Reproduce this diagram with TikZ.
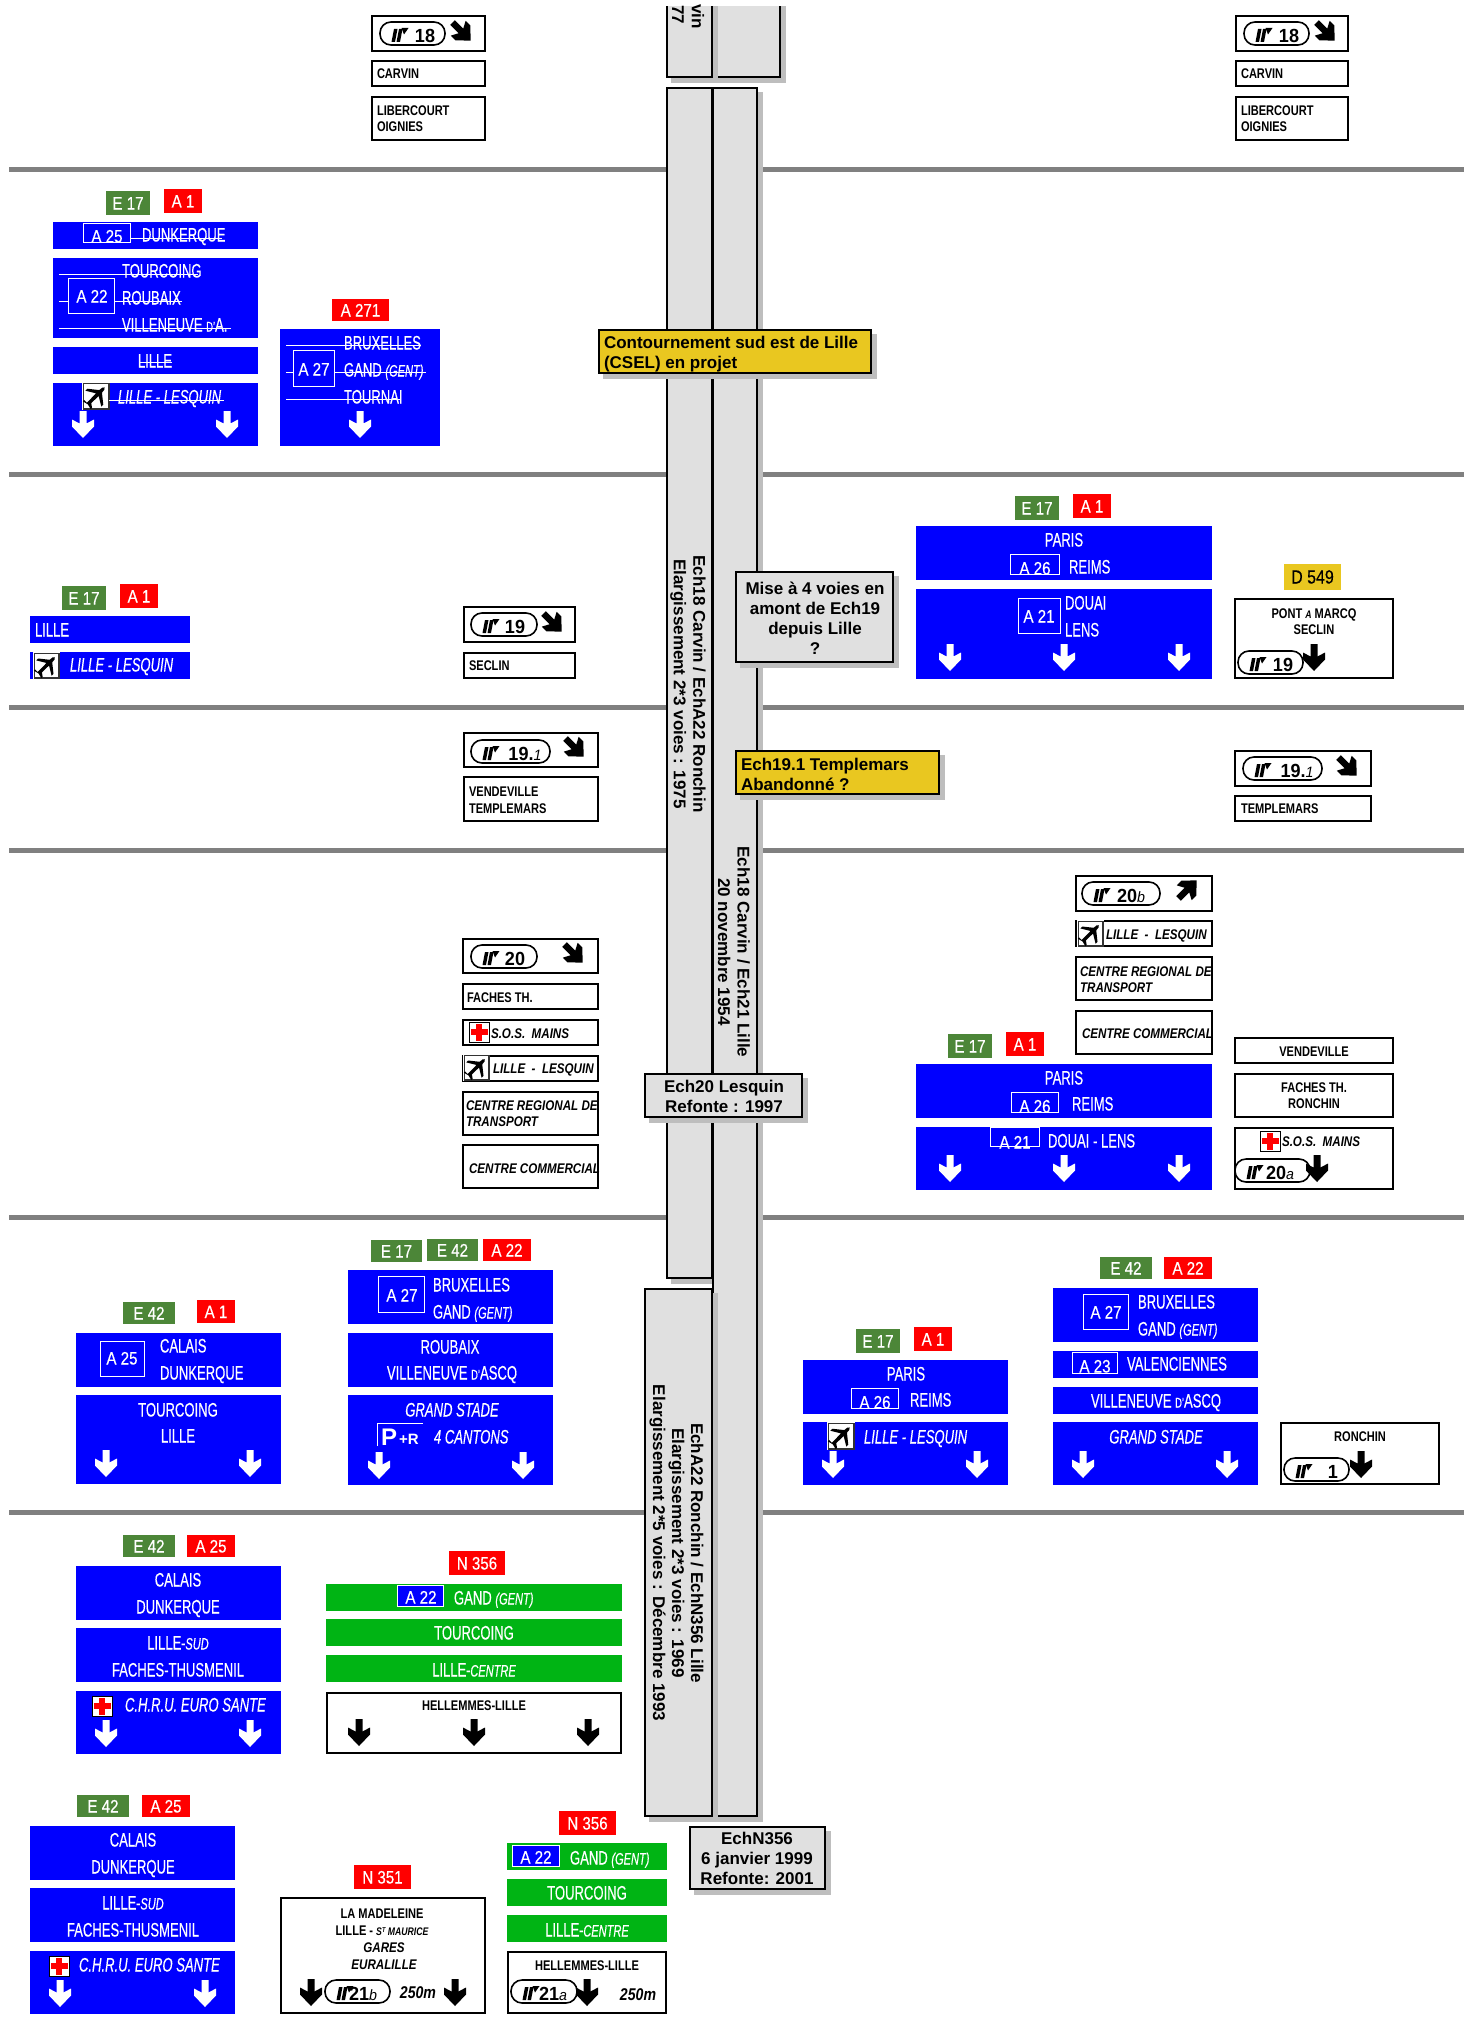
\documentclass[tikz,border=0pt]{standalone}
\usepackage{fontspec}
\newfontfamily\sgfam[FakeStretch=.67,FakeBold=.35]{Liberation Sans}
\newfontfamily\lbfam[FakeStretch=.84,FakeBold=.35]{Liberation Sans}
\newfontfamily\bkfam[FakeStretch=.79]{Liberation Sans}
\newfontfamily\kifam[FakeStretch=.83]{Liberation Sans}
\newfontfamily\pnfam[FakeStretch=.95]{Liberation Sans}
\newfontfamily\arfam{Liberation Sans}
\newcommand\sgf{\sgfam\fontsize{19.5}{22}\selectfont}
\newcommand\lbf{\lbfam\fontsize{18}{20}\selectfont}
\newcommand\bkf{\bkfam\bfseries\fontsize{14}{16}\selectfont}
\newcommand\kif{\kifam\bfseries\itshape\fontsize{14}{16}\selectfont}
\newcommand\pnf{\pnfam\bfseries\fontsize{19}{19}\selectfont}
\newcommand\arf{\arfam\bfseries\fontsize{17}{20}\selectfont}
\newcommand\smi[1]{{\fontsize{16.5}{14}\selectfont\itshape #1}}
\newcommand\sms[1]{{\fontsize{14}{14}\selectfont #1}}
\newcommand\smk[1]{{\fontsize{11}{14}\selectfont\itshape #1}}
\newcommand\smp[1]{{\fontsize{15}{14}\selectfont\mdseries\itshape #1}}
\definecolor{sblue}{HTML}{0000FF}
\definecolor{sgreen}{HTML}{00B414}
\definecolor{lgreen}{HTML}{4C8638}
\definecolor{sred}{HTML}{FF0000}
\definecolor{syel}{HTML}{E9C720}
\definecolor{pgray}{HTML}{E0E0E0}
\definecolor{shad}{HTML}{BEBEBE}
\definecolor{rule}{HTML}{808080}
\tikzset{
 txt/.style={inner sep=0pt,outer sep=0pt},
 wc/.style={txt,text=white,font=\sgf,text height=14pt,text depth=0pt,anchor=center,yshift=.5pt},
 wl/.style={wc,anchor=west},
 lb/.style={txt,text=white,font=\lbf,text height=13pt,text depth=0pt,anchor=center},
 kbl/.style={txt,text=black,font=\lbfam\fontsize{19}{20}\selectfont,text height=13pt,text depth=0pt,anchor=center},
 kc/.style={txt,text=black,font=\bkf,text height=10pt,text depth=0pt,anchor=center},
 kl/.style={kc,anchor=west},
 ki/.style={kl,font=\kif},
 kic/.style={kc,font=\kif},
 pn/.style={txt,text=black,font=\pnf,text height=13.5pt,text depth=0pt,anchor=center},
 ar/.style={txt,text=black,font=\arf,align=center,anchor=center},
 arl/.style={txt,text=black,font=\arf,align=left,anchor=west},
 box/.style={draw=black,line width=2pt,fill=white},
 stk/.style={draw=white,line width=.8pt},
 abox/.style={draw=white,line width=1.2pt},
 pan/.style={draw=black,line width=2pt}
}
\newcounter{tn}
\newcommand\Tx[4]{\stepcounter{tn}\node[#1] (t\arabic{tn}) at ({#2},{#3}) {#4};}
\newcommand\Bl[4]{\fill[sblue] (#1,#2) rectangle (#3,#4);}
\newcommand\Gr[4]{\fill[sgreen] (#1,#2) rectangle (#3,#4);}
\newcommand\Bx[4]{\draw[box] (#1+1,#2+1) rectangle (#3-1,#4-1);}
\newcommand\Ab[4]{\draw[abox] (#1+.6,#2+.6) rectangle (#3-.6,#4-.6);}
\newcommand\Lab[6]{\fill[#1] (#2,#3) rectangle (#4,#5); \Tx{lb}{(#2+#4)/2}{(#3+#5)/2}{#6}}
\newcommand\arpoly{(-3.5,0)--(3.5,0)--(3.5,12.5)--(11,8.5)--(11,15.5)--(0,27)--(-11,15.5)--(-11,8.5)--(-3.5,12.5)--cycle}
\newcommand\DA[3]{\fill[#1,shift={(#2,#3)}] \arpoly;}
\newcommand\RA[4]{\fill[black,shift={(#1,#2)},rotate=#3,yshift=12pt,scale=#4] \arpoly;}
\newcommand\Pan[5]{\fill[shad] (#1+5,#2+5) rectangle (#3+5,#4+5); \draw[pan,fill=#5] (#1+1,#2+1) rectangle (#3-1,#4-1);}
\newcommand\Pill[5]{% x0 y0 width cx num
 \draw[black,line width=1.6pt,fill=white,rounded corners=11pt] (#1,#2) rectangle ++(#3,23);
 \begin{scope}[shift={(#1,#2)}]
 \fill[black] (11.5,20)--(15,20)--(17.5,7)--(14,7)--cycle;
 \fill[black] (16.5,20)--(20,20)--(22.5,7)--(19,7)--cycle;
 \fill[black] (21.5,6)--(28.5,6)--(24,12.5)--cycle;
 \end{scope}
 \Tx{pn}{#4}{#2+14}{#5}}
\newcommand\Cross[3]{% x0 y0 bg
 \draw[#3,line width=1pt,fill=white] (#1,#2) rectangle ++(20,20);
 \fill[sred] (#1+7,#2+1.5) rectangle ++(6,17);
 \fill[sred] (#1+1.5,#2+7) rectangle ++(17,6);}
\newcommand\Pl[3]{% x0 y0 size
 \fill[white] (#1,#2) rectangle ++(#3,#3);
 \draw[black!80,line width=1.4pt] (#1+1.2,#2+1.2) rectangle ++(#3-2.4,#3-2.4);
 \fill[black,shift={(#1+#3/2,#2+#3/2)},rotate=45,scale=#3/30]
 (-12,-1.8)--(2,-2)--(-4,-12)--(-1,-12)--(7,-2)--(11,-1.6)--(13,0)--(11,1.6)--(7,2)--(-1,12)--(-4,12)--(2,2)--(-9,1.8)--(-12,6)--(-14,6)--(-12.5,0)--(-14,-6)--(-12,-6)--cycle;}
\begin{document}
\begin{tikzpicture}[x=1pt,y=-1pt]
\useasboundingbox (0,0) rectangle (1470,2028);
\fill[white] (0,0) rectangle (1470,2028);
% horizontal rules
\foreach \yy in {169.5,474.5,707.5,850.5,1217,1512}{\draw[rule,line width=5pt] (9,\yy)--(1464,\yy);}
% central carriageways
\Pan{712}{-5}{781}{78}{pgray}
\Pan{666}{-5}{713}{78}{pgray}
\Pan{666}{87}{713}{1279}{pgray}
\Pan{712}{87}{758}{1817}{pgray}
\Pan{644}{1288}{713}{1817}{pgray}
\fill[white] (600,0) rectangle (800,6);
\Tx{ar,rotate=-90}{698}{16.5}{vin}
\Tx{ar,rotate=-90}{678}{14.5}{77}
\Tx{ar,rotate=-90}{688}{684}{Ech18 Carvin / EchA22 Ronchin\\[-.5pt]Elargissement 2*3 voies : 1975}
\Tx{ar,rotate=-90}{734}{952}{Ech18 Carvin / Ech21 Lille\\[-.5pt]20 novembre 1954}
\Tx{ar,rotate=-90}{676.5}{1553}{EchA22 Ronchin / EchN356 Lille\\[-1pt]Elargissement 2*3 voies : 1969\\[-1pt]Elargissement 2*5 voies : Décembre 1993}
% note boxes
\Pan{598}{329}{872}{374}{syel}
\Tx{arl}{604}{354.5}{Contournement sud est de Lille\\(CSEL) en projet}
\Pan{735}{571}{894}{663}{pgray}
\Tx{ar}{815}{618}{Mise à 4 voies en\\amont de Ech19\\depuis Lille\\?}
\Pan{735}{750}{940}{795}{syel}
\Tx{arl}{741}{774}{Ech19.1 Templemars\\Abandonné ?}
\Pan{644}{1073}{803}{1118}{pgray}
\Tx{ar}{724}{1096}{Ech20 Lesquin\\Refonte : 1997}
\Pan{689}{1826}{826}{1890}{pgray}
\Tx{ar}{757}{1858}{EchN356\\6 janvier 1999\\Refonte: 2001}
% --- section 0 left
\Bx{371}{15}{486}{52}
\Pill{380}{22}{65}{425}{18}
\RA{461}{31}{45}{.95}
\Bx{371}{60}{486}{87}
\Tx{kl}{377}{74}{CARVIN}
\Bx{371}{96}{486}{141}
\Tx{kl}{377}{111}{LIBERCOURT}
\Tx{kl}{377}{127}{OIGNIES}
% --- section 0 right
\Bx{1235}{15}{1349}{52}
\Pill{1244}{22}{65}{1289}{18}
\RA{1325}{31}{45}{.95}
\Bx{1235}{60}{1349}{87}
\Tx{kl}{1241}{74}{CARVIN}
\Bx{1235}{96}{1349}{141}
\Tx{kl}{1241}{111}{LIBERCOURT}
\Tx{kl}{1241}{127}{OIGNIES}
% --- section 1 left
\Lab{lgreen}{106}{191}{150}{215}{E 17}
\Lab{sred}{164}{189}{202}{213}{A 1}
\Bl{53}{222}{258}{249}
\Ab{83}{223}{131}{243}
\Tx{lb}{107}{236}{A 25}
\Tx{wl}{142}{235}{DUNKERQUE}
\draw[stk] (131,238)--(222,238);
\Bl{53}{258}{258}{338}
\Ab{68}{278}{115}{314}
\Tx{lb}{92}{296}{A 22}
\Tx{wl}{122}{271}{TOURCOING}
\Tx{wl}{122}{298}{ROUBAIX}
\Tx{wl}{122}{325}{VILLENEUVE \sms{D’}A.}
\draw[stk] (59,274)--(198,274);
\draw[stk] (59,301)--(68,301);
\draw[stk] (115,301)--(182,301);
\draw[stk] (59,328)--(231,328);
\Bl{53}{347}{258}{374}
\Tx{wc}{155}{361}{LILLE}
\draw[stk] (139,362)--(172,362);
\Bl{53}{383}{258}{446}
\Pl{82}{382}{28}
\Tx{wl}{118}{397}{\itshape LILLE - LESQUIN}
\draw[stk] (109,400)--(224,400);
\DA{white}{83}{411}
\DA{white}{227}{411}
\Lab{sred}{332}{299}{389}{321}{A 271}
\Bl{280}{329}{440}{446}
\Ab{293}{350}{335}{387}
\Tx{lb}{314}{369}{A 27}
\Tx{wl}{344}{343}{BRUXELLES}
\Tx{wl}{344}{370}{GAND \smi{(GENT)}}
\Tx{wl}{344}{397}{TOURNAI}
\draw[stk] (286,345)--(421,345);
\draw[stk] (286,372)--(293,372);
\draw[stk] (335,372)--(426,372);
\draw[stk] (286,399)--(401,399);
\DA{white}{360}{411}
% --- section 2 left
\Lab{lgreen}{62}{586}{106}{610}{E 17}
\Lab{sred}{120}{584}{158}{608}{A 1}
\Bl{30}{616}{190}{643}
\Tx{wl}{35}{630}{LILLE}
\Bl{30}{652}{190}{679}
\Pl{33}{652}{27}
\Tx{wl}{70}{665}{\itshape LILLE - LESQUIN}
\Bx{463}{606}{576}{643}
\Pill{471}{613}{66}{515}{19}
\RA{552}{622}{45}{.95}
\Bx{463}{652}{576}{679}
\Tx{kl}{469}{665}{SECLIN}
% --- section 2 right
\Lab{lgreen}{1015}{496}{1059}{520}{E 17}
\Lab{sred}{1073}{494}{1111}{518}{A 1}
\Bl{916}{526}{1212}{580}
\Tx{wc}{1064}{540}{PARIS}
\Ab{1010}{554}{1060}{575}
\Tx{lb}{1035}{568}{A 26}
\Tx{wl}{1069}{567}{REIMS}
\Bl{916}{589}{1212}{679}
\Ab{1018}{598}{1061}{634}
\Tx{lb}{1039}{616}{A 21}
\Tx{wl}{1065}{603}{DOUAI}
\Tx{wl}{1065}{630}{LENS}
\DA{white}{950}{644}
\DA{white}{1064}{644}
\DA{white}{1179}{644}
\fill[syel] (1284,564) rectangle (1341,590);
\Tx{kbl}{1312.5}{577}{D 549}
\Bx{1234}{598}{1394}{679}
\Tx{kc}{1314}{613}{PONT \smk{A} MARCQ}
\Tx{kc}{1314}{629}{SECLIN}
\Pill{1238}{651}{65}{1283}{19}
\DA{black}{1314}{644}
% --- section 3 left
\Bx{463}{732}{599}{768}
\Pill{471}{740}{79}{525}{19.\smp{1}}
\RA{574}{747}{45}{.95}
\Bx{463}{776}{599}{822}
\Tx{kl}{469}{791}{VENDEVILLE}
\Tx{kl}{469}{808}{TEMPLEMARS}
% --- section 3 right
\Bx{1234}{750}{1372}{787}
\Pill{1243}{757}{79}{1297}{19.\smp{1}}
\RA{1347}{766}{45}{.95}
\Bx{1234}{795}{1372}{822}
\Tx{kl}{1241}{808}{TEMPLEMARS}
% --- section 4 left
\Bx{462}{938}{599}{974}
\Pill{471}{945}{66}{515}{20}
\RA{573}{953}{45}{.95}
\Bx{462}{983}{599}{1010}
\Tx{kl}{467}{997}{FACHES TH.}
\Bx{462}{1019}{599}{1046}
\Cross{469}{1022}{black}
\Tx{ki}{491}{1033}{S.O.S.\ \ MAINS}
\Bx{462}{1055}{599}{1082}
\Pl{463}{1054}{27}
\Tx{ki}{493}{1068}{LILLE\ \ -\ \ LESQUIN}
\Bx{462}{1091}{599}{1136}
\Tx{ki}{466}{1105}{CENTRE REGIONAL DE}
\Tx{ki}{466}{1121}{TRANSPORT}
\Bx{462}{1144}{599}{1189}
\Tx{ki}{469}{1168}{CENTRE COMMERCIAL}
% --- section 4 right
\Bx{1075}{875}{1213}{912}
\Pill{1082}{882}{78}{1131}{20\smp{b}}
\RA{1187}{890}{135}{.95}
\Bx{1075}{920}{1213}{947}
\Pl{1077}{920}{27}
\Tx{ki}{1106}{934}{LILLE\ \ -\ \ LESQUIN}
\Bx{1075}{956}{1213}{1001}
\Tx{ki}{1080}{971}{CENTRE REGIONAL DE}
\Tx{ki}{1080}{987}{TRANSPORT}
\Bx{1075}{1010}{1213}{1055}
\Tx{ki}{1082}{1033}{CENTRE COMMERCIAL}
\Bx{1234}{1037}{1394}{1064}
\Tx{kc}{1314}{1051}{VENDEVILLE}
\Bx{1234}{1073}{1394}{1118}
\Tx{kc}{1314}{1087}{FACHES TH.}
\Tx{kc}{1314}{1103}{RONCHIN}
\Bx{1234}{1127}{1394}{1190}
\Cross{1260}{1131}{black}
\Tx{ki}{1282}{1141}{S.O.S.\ \ MAINS}
\Pill{1235}{1159}{75}{1280}{20\smp{a}}
\DA{black}{1317}{1155}
\Lab{lgreen}{948}{1034}{992}{1058}{E 17}
\Lab{sred}{1006}{1032}{1044}{1056}{A 1}
\Bl{916}{1064}{1212}{1118}
\Tx{wc}{1064}{1078}{PARIS}
\Ab{1011}{1092}{1059}{1113}
\Tx{lb}{1035}{1106}{A 26}
\Tx{wl}{1072}{1104}{REIMS}
\Bl{916}{1127}{1212}{1190}
\Ab{990}{1127}{1040}{1147}
\Tx{lb}{1015}{1142}{A 21}
\Tx{wl}{1048}{1141}{DOUAI - LENS}
\DA{white}{950}{1155}
\DA{white}{1064}{1155}
\DA{white}{1179}{1155}
% --- section 5
\Lab{lgreen}{123}{1302}{175}{1324}{E 42}
\Lab{sred}{197}{1300}{235}{1323}{A 1}
\Bl{76}{1333}{281}{1387}
\Ab{100}{1341}{145}{1377}
\Tx{lb}{122}{1358}{A 25}
\Tx{wl}{160}{1346}{CALAIS}
\Tx{wl}{160}{1373}{DUNKERQUE}
\Bl{76}{1395}{281}{1484}
\Tx{wc}{178}{1410}{TOURCOING}
\Tx{wc}{178}{1436}{LILLE}
\DA{white}{106}{1450}
\DA{white}{250}{1450}
\Lab{lgreen}{371}{1240}{422}{1262}{E 17}
\Lab{lgreen}{427}{1239}{478}{1261}{E 42}
\Lab{sred}{483}{1239}{531}{1261}{A 22}
\Bl{348}{1270}{553}{1324}
\Ab{378}{1276}{425}{1313}
\Tx{lb}{402}{1295}{A 27}
\Tx{wl}{433}{1285}{BRUXELLES}
\Tx{wl}{433}{1312}{GAND \smi{(GENT)}}
\Bl{348}{1333}{553}{1387}
\Tx{wc}{450}{1347}{ROUBAIX}
\Tx{wc}{452}{1373}{VILLENEUVE \sms{D’}ASCQ}
\Bl{348}{1395}{553}{1485}
\Tx{wc}{452}{1410}{\itshape GRAND STADE}
\draw[white,line width=1pt] (377,1446)--(377,1423)--(423,1423);
\Tx{txt,text=white,font=\arfam\bfseries\fontsize{24}{24}\selectfont,text height=17pt,anchor=west}{381}{1437}{P}
\Tx{txt,text=white,font=\arfam\bfseries\fontsize{15}{15}\selectfont,text height=11pt,anchor=west}{399}{1439}{+R}
\Tx{wl}{434}{1437}{\itshape 4 CANTONS}
\DA{white}{379}{1452}
\DA{white}{523}{1452}
\Lab{lgreen}{856}{1329}{900}{1353}{E 17}
\Lab{sred}{914}{1327}{952}{1351}{A 1}
\Bl{803}{1360}{1008}{1414}
\Tx{wc}{906}{1374}{PARIS}
\Ab{851}{1388}{899}{1409}
\Tx{lb}{875}{1402}{A 26}
\Tx{wl}{910}{1400}{REIMS}
\Bl{803}{1422}{1008}{1485}
\Pl{827}{1422}{28}
\Tx{wl}{864}{1437}{\itshape LILLE - LESQUIN}
\DA{white}{833}{1451}
\DA{white}{977}{1451}
\Lab{lgreen}{1100}{1257}{1152}{1279}{E 42}
\Lab{sred}{1164}{1257}{1212}{1279}{A 22}
\Bl{1053}{1288}{1258}{1342}
\Ab{1083}{1294}{1129}{1330}
\Tx{lb}{1106}{1312}{A 27}
\Tx{wl}{1138}{1302}{BRUXELLES}
\Tx{wl}{1138}{1329}{GAND \smi{(GENT)}}
\Bl{1053}{1351}{1258}{1378}
\Ab{1072}{1352}{1118}{1374}
\Tx{lb}{1095}{1366}{A 23}
\Tx{wl}{1127}{1364}{VALENCIENNES}
\Bl{1053}{1387}{1258}{1414}
\Tx{wc}{1156}{1401}{VILLENEUVE \sms{D’}ASCQ}
\Bl{1053}{1422}{1258}{1485}
\Tx{wc}{1156}{1437}{\itshape GRAND STADE}
\DA{white}{1083}{1451}
\DA{white}{1227}{1451}
\Bx{1280}{1422}{1440}{1485}
\Tx{kc}{1360}{1436}{RONCHIN}
\Pill{1284}{1458}{65}{1333}{1}
\DA{black}{1361}{1451}
% --- section 6
\Lab{lgreen}{123}{1535}{175}{1557}{E 42}
\Lab{sred}{187}{1535}{235}{1557}{A 25}
\Bl{76}{1566}{281}{1620}
\Tx{wc}{178}{1580}{CALAIS}
\Tx{wc}{178}{1607}{DUNKERQUE}
\Bl{76}{1628}{281}{1682}
\Tx{wc}{178}{1643}{LILLE \hspace{-4pt}-\smi{SUD}}
\Tx{wc}{178}{1670}{FACHES-THUSMENIL}
\Bl{76}{1691}{281}{1754}
\Cross{92}{1696}{black}
\Tx{wl}{125}{1705}{\itshape C.H.R.U. EURO SANTE}
\DA{white}{106}{1720}
\DA{white}{250}{1720}
\Lab{sred}{449}{1551}{505}{1575}{N 356}
\Gr{326}{1584}{622}{1611}
\draw[white,line width=1.2pt,fill=sblue] (397.6,1585.6) rectangle (443.4,1606.4);
\Tx{lb}{421}{1597}{A 22}
\Tx{wl}{454}{1598}{GAND \smi{(GENT)}}
\Gr{326}{1619}{622}{1646}
\Tx{wc}{474}{1633}{TOURCOING}
\Gr{326}{1655}{622}{1682}
\Tx{wc}{474}{1670}{LILLE \hspace{-4pt}-\smi{CENTRE}}
\Bx{326}{1692}{622}{1754}
\Tx{kc}{474}{1705}{HELLEMMES-LILLE}
\DA{black}{359}{1719}
\DA{black}{474}{1719}
\DA{black}{588}{1719}
\Lab{lgreen}{77}{1795}{129}{1817}{E 42}
\Lab{sred}{142}{1795}{190}{1817}{A 25}
\Bl{30}{1826}{235}{1880}
\Tx{wc}{133}{1840}{CALAIS}
\Tx{wc}{133}{1867}{DUNKERQUE}
\Bl{30}{1888}{235}{1942}
\Tx{wc}{133}{1903}{LILLE \hspace{-4pt}-\smi{SUD}}
\Tx{wc}{133}{1930}{FACHES-THUSMENIL}
\Bl{30}{1951}{235}{2014}
\Cross{49}{1956}{black}
\Tx{wl}{79}{1965}{\itshape C.H.R.U. EURO SANTE}
\DA{white}{60}{1980}
\DA{white}{205}{1980}
\Lab{sred}{354}{1865}{411}{1889}{N 351}
\Bx{280}{1897}{486}{2014}
\Tx{kc}{382}{1913}{LA MADELEINE}
\Tx{kc}{382}{1930}{LILLE - \smk{S\raisebox{3pt}{\fontsize{7}{7}\selectfont T} MAURICE}}
\Tx{kic}{384}{1947}{GARES}
\Tx{kic}{384}{1964}{EURALILLE}
\DA{black}{311}{1979}
\Pill{325}{1980}{65}{363}{21\smp{b}}
\Tx{kic}{418}{1993}{\fontsize{17}{17}\selectfont 250m}
\DA{black}{455}{1979}
\Lab{sred}{559}{1811}{616}{1835}{N 356}
\Gr{507}{1843}{667}{1870}
\draw[white,line width=1.2pt,fill=sblue] (512.6,1845.6) rectangle (559.4,1866.4);
\Tx{lb}{536}{1857}{A 22}
\Tx{wl}{570}{1858}{GAND \smi{(GENT)}}
\Gr{507}{1879}{667}{1906}
\Tx{wc}{587}{1893}{TOURCOING}
\Gr{507}{1915}{667}{1942}
\Tx{wc}{587}{1930}{LILLE \hspace{-4pt}-\smi{CENTRE}}
\Bx{507}{1951}{667}{2014}
\Tx{kc}{587}{1965}{HELLEMMES-LILLE}
\Pill{511}{1980}{66}{553}{21\smp{a}}
\DA{black}{587}{1979}
\Tx{kic}{638}{1995}{\fontsize{17}{17}\selectfont 250m}
\end{tikzpicture}
\end{document}
